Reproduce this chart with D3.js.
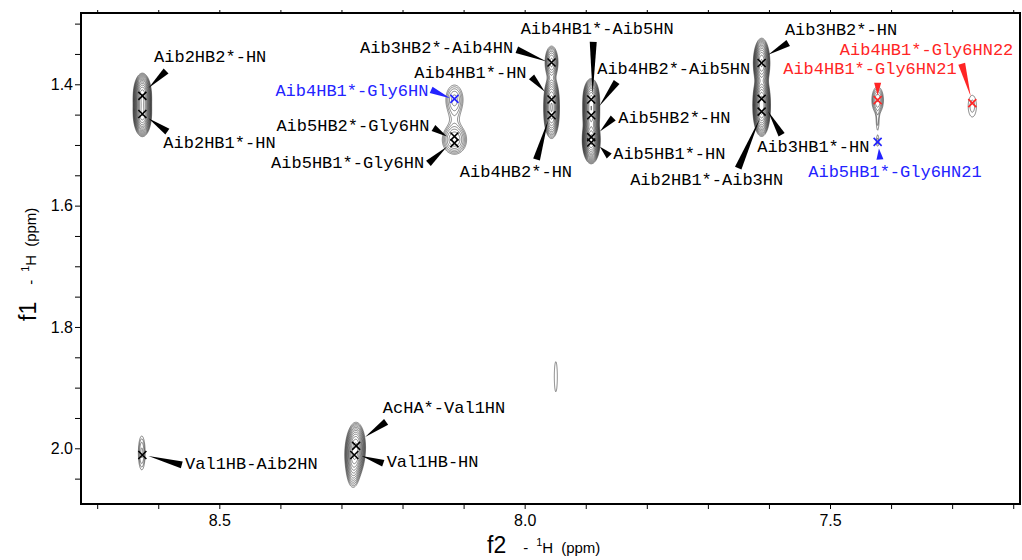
<!DOCTYPE html>
<html>
<head>
<meta charset="utf-8">
<script src="https://cdn.jsdelivr.net/npm/d3@7"></script>
<style>
  body { margin: 0; background: #fff; }
  svg { display: block; }
  .lbl { font-family: "Liberation Mono", "Courier New", monospace; font-size: 17px; }
  .axis text { font-family: "Liberation Sans", Arial, sans-serif; font-size: 16px; fill: #000; }
  .title { font-family: "Liberation Sans", Arial, sans-serif; fill: #000; }
</style>
</head>
<body>
<svg id="chart" width="1022" height="560"></svg>
<script>
// assigned cross peaks (f2 / f1 in ppm)
var peakNames = ["Aib2HB2*-HN", "Aib2HB1*-HN", "Aib4HB1*-Gly6HN", "Aib5HB2*-Gly6HN", "Aib5HB1*-Gly6HN",
                 "Aib3HB2*-Aib4HN", "Aib4HB1*-HN", "Aib4HB2*-HN", "Aib4HB1*-Aib5HN", "Aib4HB2*-Aib5HN",
                 "Aib5HB2*-HN", "Aib5HB1*-HN", "Aib3HB2*-HN", "Aib3HB1*-HN", "Aib2HB1*-Aib3HN",
                 "Aib4HB1*-Gly6HN21", "Aib4HB1*-Gly6HN22", "Aib5HB1*-Gly6HN21",
                 "Val1HB-Aib2HN", "AcHA*-Val1HN", "Val1HB-HN"];
var peakF2 = [8.626, 8.626, 8.115, 8.115, 8.115,
              7.956, 7.956, 7.956, 7.891, 7.891,
              7.891, 7.891, 7.612, 7.612, 7.612,
              7.422, 7.267, 7.422,
              8.626, 8.276, 8.279];
var peakF1 = [1.419, 1.449, 1.424, 1.486, 1.497,
              1.364, 1.425, 1.451, 1.425, 1.451,
              1.487, 1.496, 1.365, 1.424, 1.445,
              1.426, 1.431, 1.495,
              2.011, 1.996, 2.011];
var peakGroup = ["k", "k", "b", "k", "k",
                 "k", "k", "k", "k", "k",
                 "k", "k", "k", "k", "k",
                 "r", "r", "b",
                 "k", "k", "k"];

// spectrum components: centre (ppm), gaussian widths (ppm), height (in lowest-level units)
var compF2 = [8.626, 8.626,
              8.115, 8.115, 8.115, 8.115,
              7.956, 7.956, 7.956,
              7.891, 7.891, 7.891, 7.891,
              7.612, 7.612, 7.612,
              7.422, 7.422, 7.422,
              7.267, 7.949, 8.627,
              8.276, 8.279, 8.281];
var compF1 = [1.419, 1.449,
              1.424, 1.4556, 1.486, 1.497,
              1.364, 1.425, 1.451,
              1.425, 1.451, 1.487, 1.496,
              1.365, 1.424, 1.445,
              1.426, 1.462, 1.495,
              1.436, 1.882, 2.0076,
              1.996, 2.011, 2.036];
var compW2 = [0.0056, 0.0056,
              0.009, 0.0082, 0.0108, 0.0108,
              0.0052, 0.0052, 0.0052,
              0.0052, 0.0052, 0.0052, 0.0052,
              0.0052, 0.0052, 0.0052,
              0.0057, 0.0025, 0.0025,
              0.0075, 0.0041, 0.0041,
              0.0064, 0.0064, 0.0057];
var compW1 = [0.014, 0.014,
              0.0148, 0.023, 0.0115, 0.0115,
              0.0132, 0.0165, 0.0165,
              0.0132, 0.0132, 0.0132, 0.0132,
              0.0157, 0.0157, 0.0157,
              0.0132, 0.0148, 0.0082,
              0.0198, 0.041, 0.0206,
              0.0165, 0.0165, 0.0165];
var compAmp = [35, 35,
               3, 1.2, 3, 3,
               8, 15, 15,
               30, 30, 30, 30,
               30, 30, 30,
               4, 1.4, 1.4,
               1.5, 1.2, 2.5,
               15, 15, 4];

var xTickLabels = [8.5, 8.0, 7.5];
var yTickLabels = [1.4, 1.6, 1.8, 2.0];

// label placement: text dx, dy, anchor, wedge base dx, dy, wedge tip dx, dy (px from the cross)
var labelLayout = [
    [11.7, -33.4, "start", 23.7, -24.7, 6.2, -7.7],
    [21, 34.3, "start", 25, 17.7, 6, 4.3],
    [-26, -3, "end", -23.3, -9, -4.3, -0.7],
    [-25, -5, "end", -21, -8.4, -7.6, 0],
    [-30.3, 25.3, "end", -26, 20.3, -7.6, 3.7],
    [-38.4, -9.4, "end", -34.7, -12.7, -5, -1],
    [-25, -21, "end", -20, -22.6, -6.7, -7.6],
    [-91.7, 62, "start", -15, 44.3, -3.4, 5],
    [-70.6, -65, "start", 2, -57.6, 1.4, -5],
    [6, -41, "start", 25.4, -33.3, 8, -9],
    [27, -14, "start", 22, -19, 8.7, -5.6],
    [22, 16.8, "start", 18, 13.5, 8.7, 4.2],
    [23.3, -28.3, "start", 26.6, -20, 6.6, -8.3],
    [-4.4, 52.7, "start", 20, 36, 6.6, 12.7],
    [21.6, 73.3, "end", -23.4, 56.6, -1.7, 6.6],
    [79, -26, "end", 0, -17.3, 0, -4.5],
    [41, -48.3, "end", -10.6, -39.3, -1.6, -6.6],
    [-69.4, 35, "start", 2.3, 17.6, 1.3, 6.6],
    [42.7, 14.3, "start", 39.4, 10, 6, 1],
    [26.7, -32.4, "start", 30, -24, 9, -9],
    [32.4, 12.3, "start", 29, 8.3, 7.4, 1]
];

var colors = {k: "#000", b: "#2323ff", r: "#ff2525"};

var svg = d3.select("#chart");

// scales
var x = d3.scaleLinear().domain([8.7265, 7.1889]).range([81, 1020]);
var y = d3.scaleLinear().domain([1.2825, 2.0918]).range([13, 504]);

var xMinor = d3.range(72, 88).map(function(d) { return d / 10; });
var yMinor = d3.range(26, 42).map(function(d) { return d / 20; });

function isLabel(list, d) {
    return list.some(function(v) { return Math.abs(v - d) < 1e-6; });
}

// ---- contour plot ----
var step = 0.5;
var nx = Math.round((x.range()[1] - x.range()[0]) / step);
var ny = Math.round(y.range()[1] - y.range()[0]);
var gx = d3.scaleLinear().domain([0, nx]).range(x.domain());
var gy = d3.scaleLinear().domain([0, ny]).range(y.domain());
var grid = new Float64Array(nx * ny);

compF2.forEach(function(c2, k) {
    var c1 = compF1[k], w2 = compW2[k], w1 = compW1[k], a = compAmp[k];
    var ia = gx.invert(c2 - 6 * w2), ib = gx.invert(c2 + 6 * w2);
    var ja = gy.invert(c1 - 6 * w1), jb = gy.invert(c1 + 6 * w1);
    var i0 = Math.max(0, Math.floor(Math.min(ia, ib))), i1 = Math.min(nx - 1, Math.ceil(Math.max(ia, ib)));
    var j0 = Math.max(0, Math.floor(Math.min(ja, jb))), j1 = Math.min(ny - 1, Math.ceil(Math.max(ja, jb)));
    for (var j = j0; j <= j1; j++) {
        var f1 = gy(j + 0.5);
        var e1 = (f1 - c1) * (f1 - c1) / (2 * w1 * w1);
        for (var i = i0; i <= i1; i++) {
            var f2 = gx(i + 0.5);
            grid[j * nx + i] += a * Math.exp(-(e1 + (f2 - c2) * (f2 - c2) / (2 * w2 * w2)));
        }
    }
});

var levels = d3.range(0, 16).map(function(k) { return Math.pow(1.32, k); });
var contours = d3.contours().size([nx, ny]).thresholds(levels)(grid);

var projection = d3.geoTransform({
    point: function(px, py) { this.stream.point(x(gx(px)), y(gy(py))); }
});
var path = d3.geoPath(projection);

svg.append("g")
    .attr("fill", "none")
    .attr("stroke", "#111")
    .attr("stroke-width", 0.5)
    .selectAll("path")
    .data(contours)
    .enter().append("path")
    .attr("d", path);

// ---- axes ----
svg.append("g")
    .attr("class", "axis")
    .attr("transform", "translate(0," + y.range()[1] + ")")
    .call(d3.axisBottom(x).tickValues(xMinor).tickSize(5).tickPadding(6)
        .tickFormat(function(d) { return isLabel(xTickLabels, d) ? d3.format(".1f")(d) : ""; }))
    .call(function(g) { g.select(".domain").remove(); });

svg.append("g")
    .attr("class", "axis")
    .attr("transform", "translate(0," + y.range()[0] + ")")
    .call(d3.axisTop(x).tickValues(xMinor).tickSize(3).tickFormat(""))
    .call(function(g) { g.select(".domain").remove(); });

svg.append("g")
    .attr("class", "axis")
    .attr("transform", "translate(" + x.range()[0] + ",0)")
    .call(d3.axisLeft(y).tickValues(yMinor).tickSize(6).tickPadding(2)
        .tickFormat(function(d) { return isLabel(yTickLabels, d) ? d3.format(".1f")(d) : ""; }))
    .call(function(g) { g.select(".domain").remove(); });

svg.append("rect")
    .attr("x", x.range()[0])
    .attr("y", y.range()[0])
    .attr("width", x.range()[1] - x.range()[0])
    .attr("height", y.range()[1] - y.range()[0])
    .attr("fill", "none")
    .attr("stroke", "#000")
    .attr("stroke-width", 2);

// axis titles
function axisTitle(g, dim) {
    var t = g.append("text").attr("class", "title");
    t.append("tspan").attr("font-size", 23).text(dim);
    t.append("tspan").attr("font-size", 15).attr("dx", 17).text("-");
    t.append("tspan").attr("font-size", 11).attr("dx", 8).attr("dy", -7).text("1");
    t.append("tspan").attr("font-size", 15).attr("dy", 7).text("H");
    t.append("tspan").attr("font-size", 15).attr("dx", 8).text("(ppm)");
}
axisTitle(svg.append("g").attr("transform", "translate(487,553)"), "f2");
axisTitle(svg.append("g").attr("transform", "translate(36,321) rotate(-90)"), "f1");

// ---- peak annotations ----
var ann = svg.append("g");
peakNames.forEach(function(name, k) {
    var px = x(peakF2[k]), py = y(peakF1[k]);
    var L = labelLayout[k];
    var col = colors[peakGroup[k]];

    // wedge leader from label to the cross
    var bx = px + L[3], by = py + L[4], tx = px + L[5], ty = py + L[6];
    var dx = tx - bx, dy = ty - by, len = Math.sqrt(dx * dx + dy * dy);
    var nxv = -dy / len * 3.5, nyv = dx / len * 3.5;
    ann.append("path")
        .attr("d", "M" + (bx + nxv) + "," + (by + nyv) + "L" + (bx - nxv) + "," + (by - nyv) + "L" + tx + "," + ty + "Z")
        .attr("fill", col);

    ann.append("path")
        .attr("d", "M-4,-4L4,4M-4,4L4,-4")
        .attr("transform", "translate(" + px + "," + py + ")")
        .attr("stroke", col)
        .attr("stroke-width", 1.6)
        .attr("fill", "none");

    ann.append("text")
        .attr("class", "lbl")
        .attr("x", px + L[0])
        .attr("y", py + L[1])
        .attr("text-anchor", L[2])
        .attr("fill", col)
        .text(name);
});
</script>
</body>
</html>
